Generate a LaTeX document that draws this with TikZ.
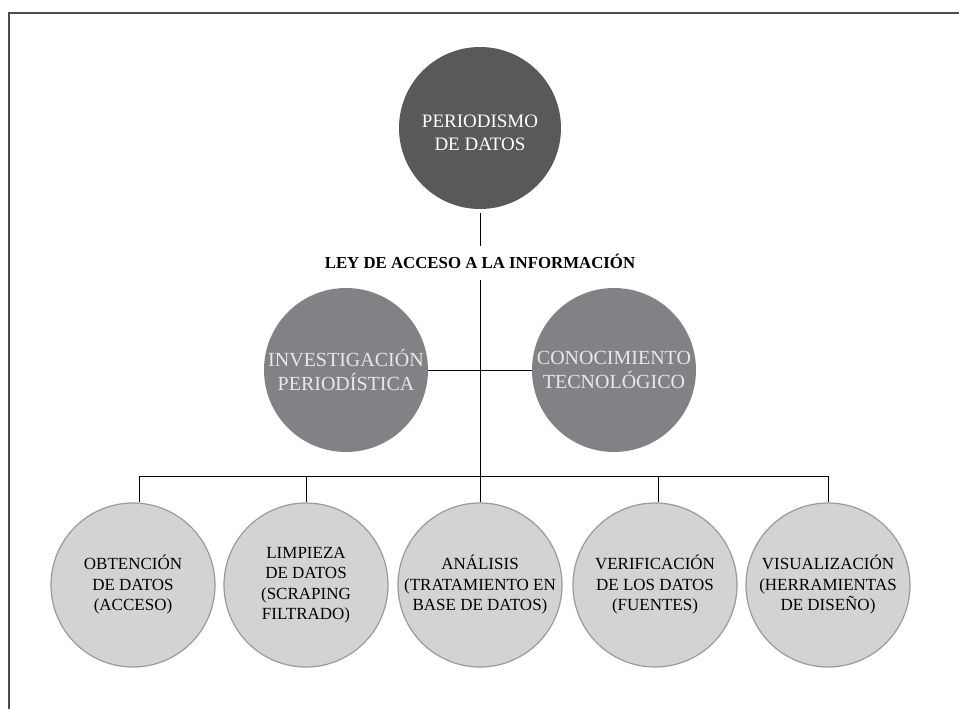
\documentclass[tikz,border=0pt]{standalone}
\usepackage{fontspec}
\setmainfont{Liberation Serif}
\definecolor{framegray}{HTML}{4D4D4F}
\definecolor{topgray}{HTML}{58595B}
\definecolor{midgray}{HTML}{808285}
\definecolor{midtext}{HTML}{E8E8E8}
\definecolor{botfill}{HTML}{D1D3D4}
\definecolor{botline}{HTML}{9A9A9C}
\begin{document}
\begin{tikzpicture}[x=1pt,y=-1pt,
  frameline/.style={draw=framegray,line width=2pt},
  conn/.style={draw=black,line width=1pt},
  topc/.style={circle,fill=topgray,minimum size=162pt,inner sep=0pt},
  toptext/.style={text=white,align=center,inner sep=0pt,font=\fontsize{19}{23.5}\selectfont},
  midc/.style={circle,fill=midgray,minimum size=164pt,inner sep=0pt,text=midtext,align=center,font=\fontsize{20}{24.5}\selectfont},
  botc/.style={circle,fill=botfill,draw=botline,line width=1.2pt,minimum size=164pt,inner sep=0pt,text=black,align=center,font=\fontsize{17}{20.5}\selectfont},
  titlestyle/.style={font=\bfseries\fontsize{16.8}{20}\selectfont,inner sep=0pt}
]
\useasboundingbox (0,0) rectangle (959,709);
% frame (top and left edges)
\draw[frameline] (8.5,709) -- (8.5,13) -- (959,13);

\node[topc] (top) at (480,128) {};
\node[toptext] (toptxt) at (480,133) {PERIODISMO\\DE DATOS};
\node[titlestyle] (title) at (480,261) {LEY DE ACCESO A LA INFORMACIÓN};
\node[midc] (inv) at (346,370) {INVESTIGACIÓN\\PERIODÍSTICA};
\node[midc] (con) at (614,370) {CONOCIMIENTO\\TECNOLÓGICO};

\node[botc] (b1) at (133,585) {OBTENCIÓN\\DE DATOS\\(ACCESO)};
\node[botc] (b2) at (306,585) {LIMPIEZA\\DE DATOS\\(SCRAPING\\FILTRADO)};
\node[botc] (b3) at (480,585) {ANÁLISIS\\(TRATAMIENTO EN\\BASE DE DATOS)};
\node[botc] (b4) at (655,585) {VERIFICACIÓN\\DE LOS DATOS\\(FUENTES)};
\node[botc] (b5) at (828,585) {VISUALIZACIÓN\\(HERRAMIENTAS\\DE DISEÑO)};

\coordinate (hub) at (480,476);
\coordinate (barL) at (139,476);
\coordinate (barR) at (828,476);
\coordinate (b4top) at (658,502);

% connectors
\draw[conn] ([yshift=-4pt]top.south) -- ([yshift=8pt]title.north);
\draw[conn] ([yshift=-12pt]title.south) -- (hub);
\draw[conn] (inv.east) -- (con.west);
\draw[conn] (barL) -- (barR);
\draw[conn] (barL) -- (barL |- b1.north);
\draw[conn] (b2.north |- hub) -- (b2.north);
\draw[conn] (hub) -- (b3.north);
\draw[conn] (b4top |- hub) -- (b4top);
\draw[conn] (barR) -- (b5.north);
\end{tikzpicture}
\end{document}
